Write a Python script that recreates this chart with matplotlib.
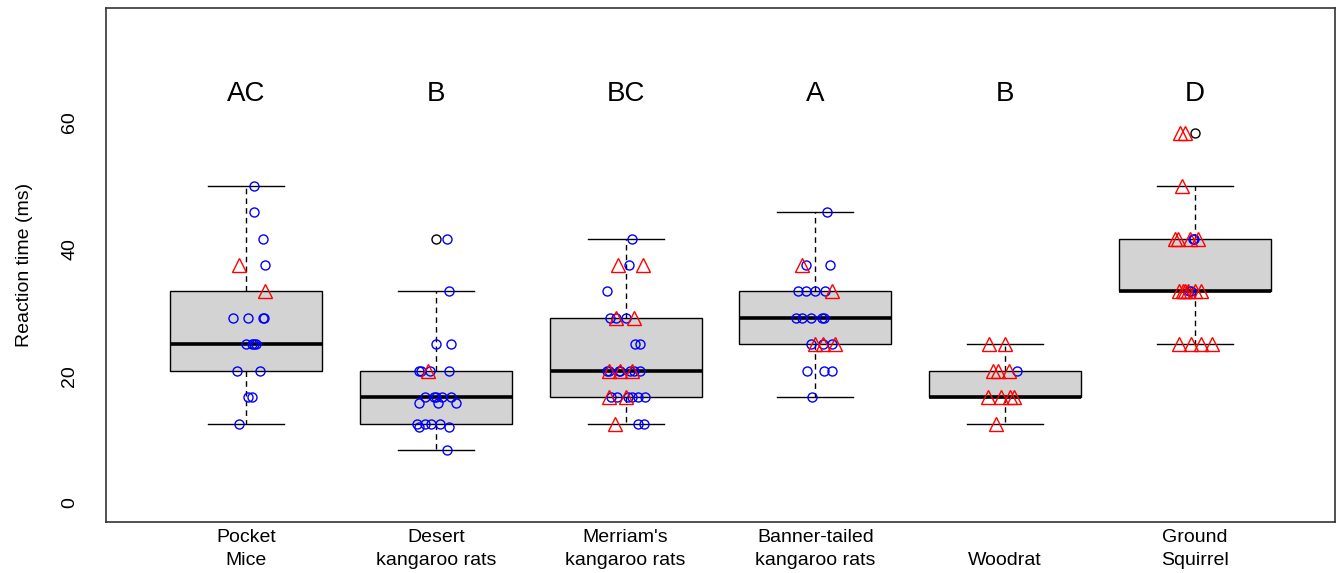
import matplotlib
matplotlib.use("Agg")
import matplotlib.pyplot as plt

plt.rcParams['font.family'] = ['Liberation Sans', 'DejaVu Sans']

# ---------------- data ----------------
categories = ["Pocket\nMice", "Desert\nkangaroo rats", "Merriam's\nkangaroo rats",
              "Banner-tailed\nkangaroo rats", "\nWoodrat", "Ground\nSquirrel"]
letters = ["AC", "B", "BC", "A", "B", "D"]

# box statistics
whis_lo = [12.5, 8.33, 12.5, 16.67, 12.5, 25.0]
q1      = [20.83, 12.5, 16.67, 25.0, 16.67, 33.33]
median  = [25.0, 16.67, 20.83, 29.17, 16.67, 33.33]
q3      = [33.33, 20.83, 29.17, 33.33, 20.83, 41.67]
whis_hi = [50.0, 33.33, 41.67, 45.83, 25.0, 50.0]
outliers = [[], [41.67], [], [], [], [58.33]]

# blue circles: values and horizontal jitter
circ_vals = [
    [50, 45.83, 41.67, 37.5, 29.17, 29.17, 29.17, 29.17, 25, 25, 25, 25, 20.83, 20.83, 16.67, 16.67, 12.5],
    [41.67, 33.33, 25, 25, 20.83, 20.83, 20.83, 20.83, 16.67, 16.67, 16.67, 16.67, 16.67,
     15.83, 15.83, 15.83, 12.5, 12.5, 12.5, 12.5, 11.9, 11.9, 8.33],
    [41.67, 37.5, 33.33, 29.17, 29.17, 29.17, 25, 25, 20.83, 20.83, 20.83, 20.83, 20.83, 20.83, 20.83,
     16.67, 16.67, 16.67, 16.67, 16.67, 16.67, 12.5, 12.5],
    [45.83, 37.5, 37.5, 33.33, 33.33, 33.33, 33.33, 29.17, 29.17, 29.17, 29.17, 29.17,
     25, 25, 25, 20.83, 20.83, 20.83, 16.67],
    [20.83],
    [41.67, 41.67, 33.33, 33.33],
]
circ_jit = [
    [.04, .04, .09, .10, -.07, .01, .09, .095, 0, .03, .04, .05, -.05, .07, .01, .03, -.04],
    [.06, .07, 0, .08, -.09, -.08, -.03, .07, -.06, -.01, 0, .03, .08,
     -.09, .01, .105, -.10, -.06, -.025, .02, -.09, .07, .06],
    [.035, .02, -.10, -.08, -.05, 0, .05, .075, -.10, -.09, -.035, -.03, .025, .045, .075,
     -.075, -.045, .01, .035, .065, .10, .065, .095],
    [.06, -.05, .075, -.09, -.05, 0, .05, -.10, -.07, -.025, .035, .045,
     -.025, .04, .09, -.045, .045, .09, -.02],
    [.065],
    [-.01, -.005, -.03, -.02],
]

# red triangles: values and horizontal jitter
tri_vals = [
    [37.5, 33.33],
    [20.83],
    [37.5, 37.5, 29.17, 29.17, 20.83, 20.83, 20.83, 16.67, 16.67, 12.5],
    [37.5, 33.33, 25, 25, 25],
    [25, 25, 20.83, 20.83, 20.83, 16.67, 16.67, 16.67, 16.67, 12.5],
    [58.33, 58.33, 50, 41.67, 41.67, 41.67, 41.67, 33.33, 33.33, 33.33, 33.33, 33.33, 33.33,
     25, 25, 25, 25],
]
tri_jit = [
    [-.04, .10],
    [-.04],
    [-.04, .09, -.05, .045, -.09, -.03, .035, -.09, 0, -.055],
    [-.07, .09, 0, .04, .105],
    [-.085, 0, -.065, -.035, .02, -.09, -.02, .025, .045, -.05],
    [-.075, -.05, -.065, -.105, -.09, -.025, .02, -.08, -.06, -.05, -.035, 0, .035,
     -.085, -.02, .035, .09],
]

letter_y = 64.5

# ---------------- plot ----------------
W, H = 1337, 573
fig = plt.figure(figsize=(W / 100, H / 100), dpi=100)
ax = fig.add_axes([106 / W, 1 - 522 / H, (1335 - 106) / W, (522 - 8) / H])

positions = list(range(1, len(categories) + 1))
stats = []
for i in range(len(categories)):
    stats.append(dict(med=median[i], q1=q1[i], q3=q3[i], whislo=whis_lo[i],
                      whishi=whis_hi[i], fliers=outliers[i]))

ax.bxp(stats, positions=positions, widths=0.8, patch_artist=True,
       boxprops=dict(facecolor='#D3D3D3', edgecolor='black', linewidth=1.0),
       medianprops=dict(color='black', linewidth=2.6, solid_capstyle='butt'),
       whiskerprops=dict(color='black', linewidth=1.0, linestyle=(0, (4, 3))),
       capprops=dict(color='black', linewidth=1.0), capwidths=0.4,
       flierprops=dict(marker='o', markerfacecolor='none', markeredgecolor='black',
                       markersize=6.5, markeredgewidth=1.0),
       manage_ticks=False, zorder=1)

for i, p in enumerate(positions):
    ax.plot([p + j for j in circ_jit[i]], circ_vals[i], linestyle='none', marker='o',
            markerfacecolor='none', markeredgecolor='#0000FF', markersize=6.5,
            markeredgewidth=1.0, zorder=3)
    ax.plot([p + j for j in tri_jit[i]], tri_vals[i], linestyle='none', marker='^',
            markerfacecolor='none', markeredgecolor='#FF0000', markersize=10,
            markeredgewidth=1.0, zorder=3)
    ax.text(p, letter_y, letters[i], ha='center', va='center', fontsize=20)

ax.set_xlim(0.26, 6.74)
ax.set_ylim(-3, 78)
ax.set_xticks(positions)
ax.set_xticklabels(categories, fontsize=14, linespacing=1.5)
ax.set_yticks([0, 20, 40, 60])
ax.set_yticklabels(['0', '20', '40', '60'], fontsize=14, rotation=90, va='center')
ax.tick_params(axis='x', length=0, pad=5)
ax.tick_params(axis='y', length=0, pad=20)
ax.set_ylabel("Reaction time (ms)", fontsize=14, labelpad=20)
for s in ax.spines.values():
    s.set_linewidth(1.2)
    s.set_color('#333333')

fig.savefig("out.png", dpi=100)
